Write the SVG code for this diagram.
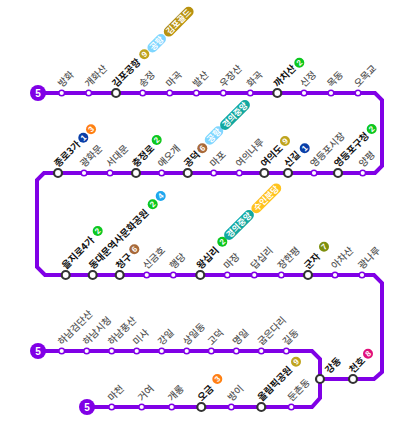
<svg xmlns="http://www.w3.org/2000/svg" width="410" height="444" viewBox="0 0 410 444">
<style>
text{font-family:"Noto Sans CJK KR","Noto Sans",sans-serif}
.ln{fill:none;stroke:#8000e6;stroke-width:4;stroke-linejoin:miter}
.mi{fill:#fff;stroke:#8000e6;stroke-width:1.5}
.ma{fill:#fff;stroke:#333;stroke-width:2.2}
.tm{font-size:9.6px;fill:#555;font-weight:500}
.tb{font-size:9.6px;fill:#111;font-weight:700}
.bd{font-size:10px;font-weight:700;fill:#fff;text-anchor:middle;font-family:"Liberation Sans",sans-serif}
.cn{font-size:8px;font-weight:700;fill:#fff;text-anchor:middle;font-family:"Liberation Sans",sans-serif}
.cp{font-size:8.5px;font-weight:700;fill:#fff;text-anchor:middle}
</style>
<g id="connectors">
<path class="ln" d="M38 93H375L382 100V166L375 173H44L37 180V267L45 275H374L382 283V372L374 379H320"/>
<path class="ln" d="M38 351H312L320 359V398L312 407H87"/>
</g>
<g id="start-badges">
<g id="badge1"><circle cx="38" cy="93" r="8" fill="#8000e6"/><text class="bd" x="38" y="96.6">5</text></g>
<g id="badge2"><circle cx="38" cy="351" r="8" fill="#8000e6"/><text class="bd" x="38" y="354.6">5</text></g>
<g id="badge3"><circle cx="87" cy="407" r="8" fill="#8000e6"/><text class="bd" x="87" y="410.6">5</text></g>
</g>
<g id="n1"><circle class="mi" cx="61.7" cy="93" r="2.8"/><text class="tm" transform="translate(61.7 93) rotate(-45)" x="4" y="-3.5">방화</text></g>
<g id="n2"><circle class="mi" cx="88.7" cy="93" r="2.8"/><text class="tm" transform="translate(88.7 93) rotate(-45)" x="4" y="-3.5">개화산</text></g>
<g id="n3"><circle class="ma" cx="116" cy="93" r="4"/><text class="tb" transform="translate(116 93) rotate(-45)" x="4" y="-3.5">김포공항</text>
<g transform="translate(144.3 54.3) rotate(-45)"><circle r="5" fill="#bfa41e"/><text class="cn" y="2.8">9</text></g>
<g transform="translate(156.7 43.3) rotate(-45)"><rect x="-11" y="-5" width="22" height="10" rx="5" fill="#7fd6ff"/><text class="cp" y="3">공항</text></g>
<g transform="translate(178.7 21.7) rotate(-45)"><rect x="-19" y="-5" width="38" height="10" rx="5" fill="#b8920f"/><text class="cp" y="3">김포골드</text></g></g>
<g id="n4"><circle class="mi" cx="142.7" cy="93" r="2.8"/><text class="tm" transform="translate(142.7 93) rotate(-45)" x="4" y="-3.5">송정</text></g>
<g id="n5"><circle class="mi" cx="169.7" cy="93" r="2.8"/><text class="tm" transform="translate(169.7 93) rotate(-45)" x="4" y="-3.5">마곡</text></g>
<g id="n6"><circle class="mi" cx="196.3" cy="93" r="2.8"/><text class="tm" transform="translate(196.3 93) rotate(-45)" x="4" y="-3.5">발산</text></g>
<g id="n7"><circle class="mi" cx="223.3" cy="93" r="2.8"/><text class="tm" transform="translate(223.3 93) rotate(-45)" x="4" y="-3.5">우장산</text></g>
<g id="n8"><circle class="mi" cx="250.3" cy="93" r="2.8"/><text class="tm" transform="translate(250.3 93) rotate(-45)" x="4" y="-3.5">화곡</text></g>
<g id="n9"><circle class="ma" cx="277.3" cy="93" r="4"/><text class="tb" transform="translate(277.3 93) rotate(-45)" x="4" y="-3.5">까치산</text>
<g transform="translate(299.3 62.7) rotate(-45)"><circle r="5" fill="#0cc71f"/><text class="cn" y="2.8">2</text></g></g>
<g id="n10"><circle class="mi" cx="304" cy="93" r="2.8"/><text class="tm" transform="translate(304 93) rotate(-45)" x="4" y="-3.5">신정</text></g>
<g id="n11"><circle class="mi" cx="331" cy="93" r="2.8"/><text class="tm" transform="translate(331 93) rotate(-45)" x="4" y="-3.5">목동</text></g>
<g id="n12"><circle class="mi" cx="358" cy="93" r="2.8"/><text class="tm" transform="translate(358 93) rotate(-45)" x="4" y="-3.5">오목교</text></g>
<g id="n13"><circle class="mi" cx="362.7" cy="173" r="2.8"/><text class="tm" transform="translate(362.7 173) rotate(-45)" x="4" y="-3.5">양평</text></g>
<g id="n14"><circle class="ma" cx="338" cy="173" r="4"/><text class="tb" transform="translate(338 173) rotate(-45)" x="4" y="-3.5">영등포구청</text>
<g transform="translate(371.7 129) rotate(-45)"><circle r="5" fill="#0cc71f"/><text class="cn" y="2.8">2</text></g></g>
<g id="n15"><circle class="mi" cx="314" cy="173" r="2.8"/><text class="tm" transform="translate(314 173) rotate(-45)" x="4" y="-3.5">영등포시장</text></g>
<g id="n16"><circle class="ma" cx="288" cy="173" r="4"/><text class="tb" transform="translate(288 173) rotate(-45)" x="4" y="-3.5">신길</text>
<g transform="translate(304.7 148.3) rotate(-45)"><circle r="5" fill="#0a3fa8"/><text class="cn" y="2.8">1</text></g></g>
<g id="n17"><circle class="ma" cx="264.3" cy="173" r="4"/><text class="tb" transform="translate(264.3 173) rotate(-45)" x="4" y="-3.5">여의도</text>
<g transform="translate(285 141) rotate(-45)"><circle r="5" fill="#bfa41e"/><text class="cn" y="2.8">9</text></g></g>
<g id="n18"><circle class="mi" cx="239.3" cy="173" r="2.8"/><text class="tm" transform="translate(239.3 173) rotate(-45)" x="4" y="-3.5">여의나루</text></g>
<g id="n19"><circle class="mi" cx="213.7" cy="173" r="2.8"/><text class="tm" transform="translate(213.7 173) rotate(-45)" x="4" y="-3.5">마포</text></g>
<g id="n20"><circle class="ma" cx="187.7" cy="173" r="4"/><text class="tb" transform="translate(187.7 173) rotate(-45)" x="4" y="-3.5">공덕</text>
<g transform="translate(202.3 148.3) rotate(-45)"><circle r="5" fill="#a86a3a"/><text class="cn" y="2.8">6</text></g>
<g transform="translate(214 135.5) rotate(-45)"><rect x="-11" y="-5" width="22" height="10" rx="5" fill="#7fd6ff"/><text class="cp" y="3">공항</text></g>
<g transform="translate(235 115) rotate(-45)"><rect x="-19" y="-5" width="38" height="10" rx="5" fill="#12a8a0"/><text class="cp" y="3">경의중앙</text></g></g>
<g id="n21"><circle class="mi" cx="161.7" cy="173" r="2.8"/><text class="tm" transform="translate(161.7 173) rotate(-45)" x="4" y="-3.5">애오개</text></g>
<g id="n22"><circle class="ma" cx="136" cy="173" r="4"/><text class="tb" transform="translate(136 173) rotate(-45)" x="4" y="-3.5">충정로</text>
<g transform="translate(156.7 140) rotate(-45)"><circle r="5" fill="#0cc71f"/><text class="cn" y="2.8">2</text></g></g>
<g id="n23"><circle class="mi" cx="110" cy="173" r="2.8"/><text class="tm" transform="translate(110 173) rotate(-45)" x="4" y="-3.5">서대문</text></g>
<g id="n24"><circle class="mi" cx="84" cy="173" r="2.8"/><text class="tm" transform="translate(84 173) rotate(-45)" x="4" y="-3.5">광화문</text></g>
<g id="n25"><circle class="ma" cx="58" cy="173" r="4"/><text class="tb" transform="translate(58 173) rotate(-45)" x="4" y="-3.5">종로3가</text>
<g transform="translate(83.3 137.7) rotate(-45)"><circle r="5" fill="#0a3fa8"/><text class="cn" y="2.8">1</text></g>
<g transform="translate(91 129.3) rotate(-45)"><circle r="5" fill="#ff7f14"/><text class="cn" y="2.8">3</text></g></g>
<g id="n26"><circle class="ma" cx="65.7" cy="275" r="4"/><text class="tb" transform="translate(65.7 275) rotate(-45)" x="4" y="-3.5">을지로4가</text>
<g transform="translate(97.7 231) rotate(-45)"><circle r="5" fill="#0cc71f"/><text class="cn" y="2.8">2</text></g></g>
<g id="n27"><circle class="ma" cx="92.7" cy="275" r="4"/><text class="tb" transform="translate(92.7 275) rotate(-45)" x="4" y="-3.5">동대문역사문화공원</text>
<g transform="translate(152.7 204.3) rotate(-45)"><circle r="5" fill="#0cc71f"/><text class="cn" y="2.8">2</text></g>
<g transform="translate(160.7 196) rotate(-45)"><circle r="5" fill="#1ea7ee"/><text class="cn" y="2.8">4</text></g></g>
<g id="n28"><circle class="ma" cx="119.7" cy="275" r="4"/><text class="tb" transform="translate(119.7 275) rotate(-45)" x="4" y="-3.5">청구</text>
<g transform="translate(134.3 249.3) rotate(-45)"><circle r="5" fill="#a86a3a"/><text class="cn" y="2.8">6</text></g></g>
<g id="n29"><circle class="mi" cx="146.7" cy="275" r="2.8"/><text class="tm" transform="translate(146.7 275) rotate(-45)" x="4" y="-3.5">신금호</text></g>
<g id="n30"><circle class="mi" cx="173.3" cy="275" r="2.8"/><text class="tm" transform="translate(173.3 275) rotate(-45)" x="4" y="-3.5">행당</text></g>
<g id="n31"><circle class="ma" cx="200.3" cy="275" r="4"/><text class="tb" transform="translate(200.3 275) rotate(-45)" x="4" y="-3.5">왕십리</text>
<g transform="translate(222.3 241.7) rotate(-45)"><circle r="5" fill="#0cc71f"/><text class="cn" y="2.8">2</text></g>
<g transform="translate(239 225) rotate(-45)"><rect x="-19" y="-5" width="38" height="10" rx="5" fill="#12a8a0"/><text class="cp" y="3">경의중앙</text></g>
<g transform="translate(266.3 198.3) rotate(-45)"><rect x="-19" y="-5" width="38" height="10" rx="5" fill="#ffc31e"/><text class="cp" y="3">수인분당</text></g></g>
<g id="n32"><circle class="mi" cx="227.3" cy="275" r="2.8"/><text class="tm" transform="translate(227.3 275) rotate(-45)" x="4" y="-3.5">마장</text></g>
<g id="n33"><circle class="mi" cx="254.3" cy="275" r="2.8"/><text class="tm" transform="translate(254.3 275) rotate(-45)" x="4" y="-3.5">답십리</text></g>
<g id="n34"><circle class="mi" cx="281.3" cy="275" r="2.8"/><text class="tm" transform="translate(281.3 275) rotate(-45)" x="4" y="-3.5">장한평</text></g>
<g id="n35"><circle class="ma" cx="308" cy="275" r="4"/><text class="tb" transform="translate(308 275) rotate(-45)" x="4" y="-3.5">군자</text>
<g transform="translate(324 246.7) rotate(-45)"><circle r="5" fill="#7d8f0d"/><text class="cn" y="2.8">7</text></g></g>
<g id="n36"><circle class="mi" cx="335" cy="275" r="2.8"/><text class="tm" transform="translate(335 275) rotate(-45)" x="4" y="-3.5">아차산</text></g>
<g id="n37"><circle class="mi" cx="362" cy="275" r="2.8"/><text class="tm" transform="translate(362 275) rotate(-45)" x="4" y="-3.5">광나루</text></g>
<g id="n38"><circle class="ma" cx="353" cy="379" r="4"/><text class="tb" transform="translate(353 379) rotate(-45)" x="4" y="-3.5">천호</text>
<g transform="translate(368 353.7) rotate(-45)"><circle r="5" fill="#e0107c"/><text class="cn" y="2.8">8</text></g></g>
<g id="n39"><circle class="ma" cx="320" cy="379" r="4"/><text class="tb" transform="translate(320 379) rotate(-45)" x="10" y="3">강동</text></g>
<g id="n40"><circle class="mi" cx="61.7" cy="351" r="2.8"/><text class="tm" transform="translate(61.7 351) rotate(-45)" x="4" y="-3.5">하남검단산</text></g>
<g id="n41"><circle class="mi" cx="86.7" cy="351" r="2.8"/><text class="tm" transform="translate(86.7 351) rotate(-45)" x="4" y="-3.5">하남시청</text></g>
<g id="n42"><circle class="mi" cx="111.7" cy="351" r="2.8"/><text class="tm" transform="translate(111.7 351) rotate(-45)" x="4" y="-3.5">하남풍산</text></g>
<g id="n43"><circle class="mi" cx="136.7" cy="351" r="2.8"/><text class="tm" transform="translate(136.7 351) rotate(-45)" x="4" y="-3.5">미사</text></g>
<g id="n44"><circle class="mi" cx="161.7" cy="351" r="2.8"/><text class="tm" transform="translate(161.7 351) rotate(-45)" x="4" y="-3.5">강일</text></g>
<g id="n45"><circle class="mi" cx="186.7" cy="351" r="2.8"/><text class="tm" transform="translate(186.7 351) rotate(-45)" x="4" y="-3.5">상일동</text></g>
<g id="n46"><circle class="mi" cx="211.3" cy="351" r="2.8"/><text class="tm" transform="translate(211.3 351) rotate(-45)" x="4" y="-3.5">고덕</text></g>
<g id="n47"><circle class="mi" cx="236.3" cy="351" r="2.8"/><text class="tm" transform="translate(236.3 351) rotate(-45)" x="4" y="-3.5">명일</text></g>
<g id="n48"><circle class="mi" cx="261.3" cy="351" r="2.8"/><text class="tm" transform="translate(261.3 351) rotate(-45)" x="4" y="-3.5">굽은다리</text></g>
<g id="n49"><circle class="mi" cx="286.3" cy="351" r="2.8"/><text class="tm" transform="translate(286.3 351) rotate(-45)" x="4" y="-3.5">길동</text></g>
<g id="n50"><circle class="mi" cx="111.7" cy="407" r="2.8"/><text class="tm" transform="translate(111.7 407) rotate(-45)" x="4" y="-3.5">마천</text></g>
<g id="n51"><circle class="mi" cx="141.7" cy="407" r="2.8"/><text class="tm" transform="translate(141.7 407) rotate(-45)" x="4" y="-3.5">거여</text></g>
<g id="n52"><circle class="mi" cx="171.7" cy="407" r="2.8"/><text class="tm" transform="translate(171.7 407) rotate(-45)" x="4" y="-3.5">개롱</text></g>
<g id="n53"><circle class="ma" cx="201.3" cy="407" r="4"/><text class="tb" transform="translate(201.3 407) rotate(-45)" x="4" y="-3.5">오금</text>
<g transform="translate(217.3 379) rotate(-45)"><circle r="5" fill="#ff7f14"/><text class="cn" y="2.8">3</text></g></g>
<g id="n54"><circle class="mi" cx="231.3" cy="407" r="2.8"/><text class="tm" transform="translate(231.3 407) rotate(-45)" x="4" y="-3.5">방이</text></g>
<g id="n55"><circle class="ma" cx="261.3" cy="407" r="4"/><text class="tb" transform="translate(261.3 407) rotate(-45)" x="4" y="-3.5">올림픽공원</text>
<g transform="translate(296 361.7) rotate(-45)"><circle r="5" fill="#bfa41e"/><text class="cn" y="2.8">9</text></g></g>
<g id="n56"><circle class="mi" cx="291.3" cy="407" r="2.8"/><text class="tm" transform="translate(291.3 407) rotate(-45)" x="4" y="-3.5">둔촌동</text></g>
</svg>
